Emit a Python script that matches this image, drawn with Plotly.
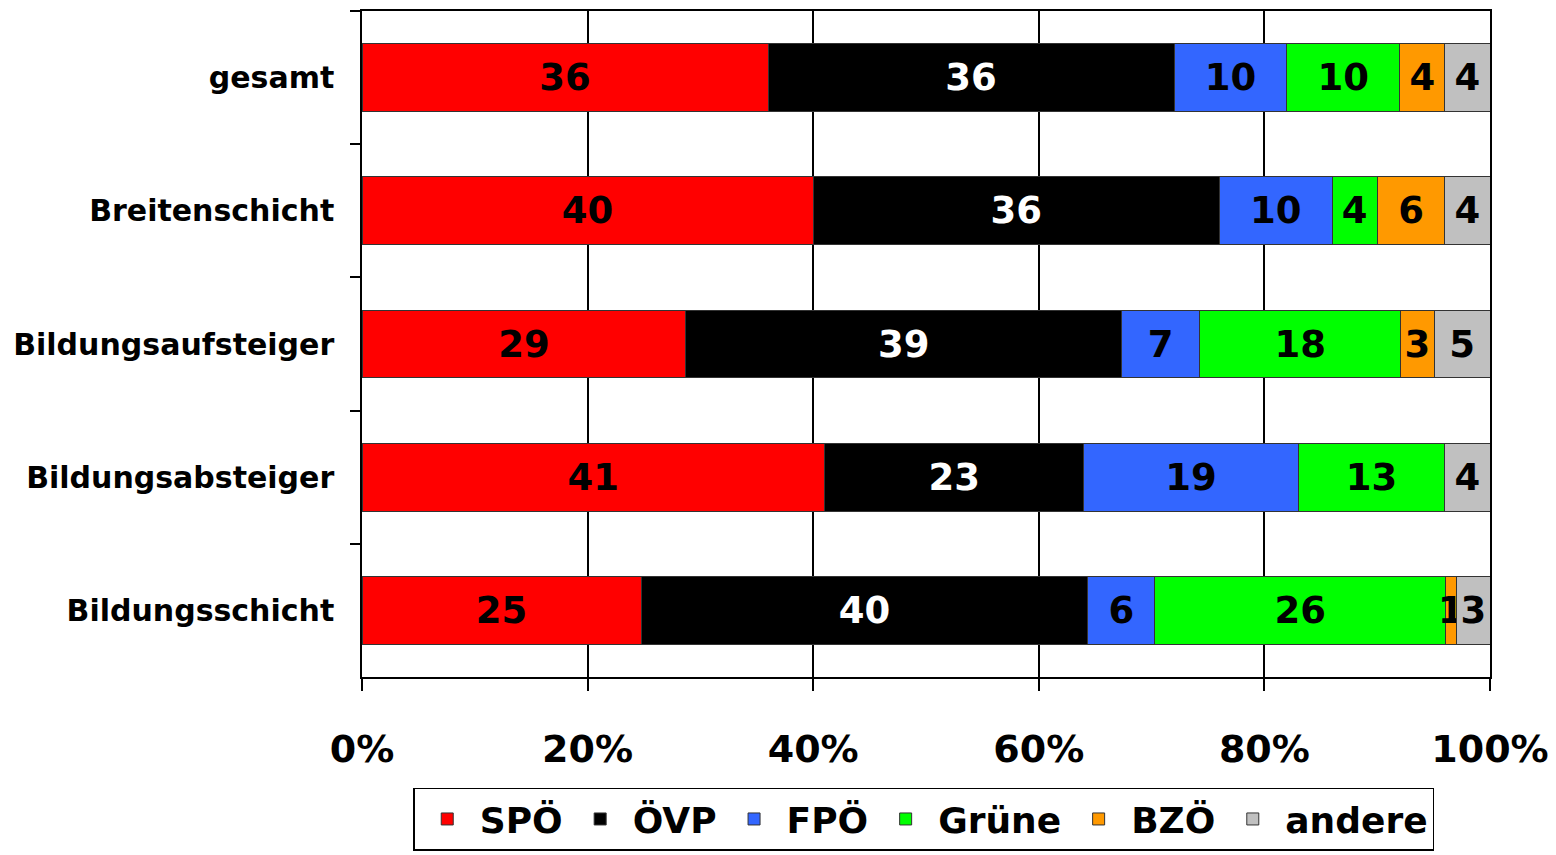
import plotly.graph_objects as go

categories = ["gesamt", "Breitenschicht", "Bildungsaufsteiger", "Bildungsabsteiger", "Bildungsschicht"]
parties = ["SPÖ", "ÖVP", "FPÖ", "Grüne", "BZÖ", "andere"]

spoe = [36, 40, 29, 41, 25]
oevp = [36, 36, 39, 23, 40]
fpoe = [10, 10, 7, 19, 6]
gruene = [10, 4, 18, 13, 26]
bzoe = [4, 6, 3, 0, 1]
andere = [4, 4, 5, 4, 3]

tick_values = [0, 20, 40, 60, 80, 100]
tick_labels = ["0%", "20%", "40%", "60%", "80%", "100%"]

series = [spoe, oevp, fpoe, gruene, bzoe, andere]
colors = ["#FF0000", "#000000", "#3366FF", "#00FF00", "#FF9900", "#C0C0C0"]
text_colors = ["black", "white", "black", "black", "black", "black"]

FONT = "DejaVu Sans"

fig = go.Figure()
for name, vals, col, tcol in zip(parties, series, colors, text_colors):
    fig.add_trace(go.Bar(
        y=categories, x=vals, name=name, orientation="h",
        marker=dict(color=col, line=dict(color="#333333", width=1)),
        text=[str(v) if v else "" for v in vals],
        textposition="inside", insidetextanchor="middle", textangle=0,
        insidetextfont=dict(family=FONT, size=37, color=tcol, weight="bold"),
        hoverinfo="skip",
    ))

fig.update_layout(
    barmode="stack", barnorm="percent", bargap=0.49,
    width=1556, height=855,
    margin=dict(l=354, r=74, t=1, b=186),
    paper_bgcolor="white", plot_bgcolor="white",
    font=dict(family=FONT, color="black", weight="bold"),
    uniformtext=dict(mode="show", minsize=37),
    legend=dict(
        orientation="h", x=0.498, xanchor="center", y=-0.166, yanchor="top",
        bordercolor="black", borderwidth=1.5,
        font=dict(family=FONT, size=36, color="black", weight="bold"),
        traceorder="normal", itemwidth=55,
    ),
    xaxis=dict(
        range=[0, 100], tickvals=tick_values, ticktext=tick_labels,
        ticks="outside", ticklen=12, tickwidth=1.5, tickcolor="black",
        showgrid=True, gridcolor="black", gridwidth=1.5, zeroline=False,
        showline=True, linecolor="black", linewidth=1.5, mirror=True,
        tickfont=dict(family=FONT, size=38, color="black", weight="bold"),
        ticklabelstandoff=26, fixedrange=True,
    ),
    yaxis=dict(
        type="category", autorange="reversed",
        ticks="outside", tickson="boundaries", ticklen=10, tickwidth=1.5, tickcolor="black",
        showgrid=False, showline=True, linecolor="black", linewidth=1.5, mirror=True,
        tickfont=dict(family=FONT, size=30, color="black", weight="bold"),
        ticklabelstandoff=20, fixedrange=True,
    ),
)

fig.write_html("out.html")
